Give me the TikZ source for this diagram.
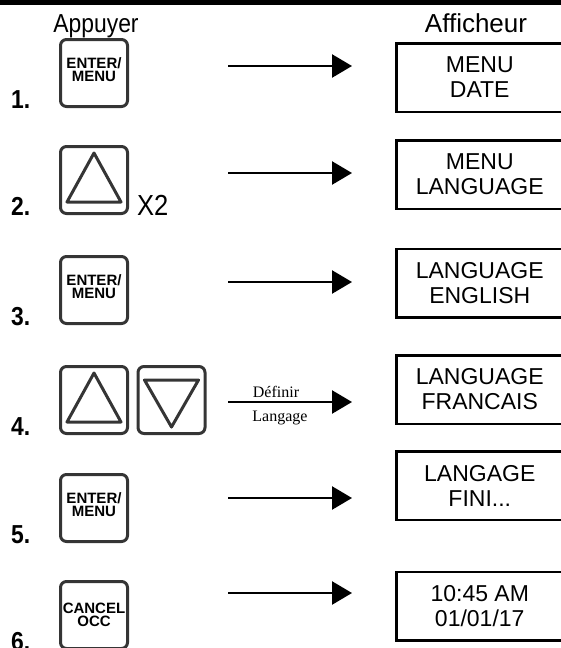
\documentclass[tikz,border=0pt]{standalone}
\usepackage{fontspec}
\setmainfont{Liberation Sans}
\newfontfamily\narrowsf[FakeStretch=0.88]{Liberation Sans}
\newfontfamily\serifrm{Liberation Serif}
\usetikzlibrary{arrows.meta}
\definecolor{keygray}{HTML}{353535}
\begin{document}
\begin{tikzpicture}[x=1pt,y=-1pt,
  key/.style={draw=keygray,line width=3pt,rounded corners=6pt,minimum width=67pt,minimum height=67pt,inner sep=0pt,align=center,font=\fontsize{15}{13.5}\selectfont\bfseries},
  keytext/.style={text depth=7pt},
  disp/.style={draw,line width=2.5pt,minimum width=166.5pt,minimum height=68.5pt,inner sep=0pt,align=center,font=\fontsize{23}{25}\selectfont},
  num/.style={anchor=base west,inner sep=0pt,font=\fontsize{26}{26}\narrowsf\bfseries},
  tri/.style={draw=keygray,line width=3pt,line join=round},
  step arrow/.style={line width=2.5pt,-{Triangle[length=20pt,width=23pt]}}]
\useasboundingbox (0,0) rectangle (561,648);
\fill (0,0) rectangle (561,5);
% headers
\node[anchor=base,inner sep=0pt,font=\fontsize{26}{26}\narrowsf] (appuyer) at (96,32) {Appuyer};
\node[anchor=base,inner sep=0pt,font=\fontsize{26}{26}\selectfont] (afficheur) at (476,32) {Afficheur};
% step 1
\node[key,keytext] (k1) at (94,73) {ENTER/\\MENU};
\node[num] (n1) at (11,108) {1.};
\node[disp] (d1) at (479.75,77.5) {MENU\\DATE};
\coordinate (a1) at (228,66);
\coordinate (b1) at (352,66);
\draw[step arrow] (a1) -- (b1);
% step 2
\node[key] (k2) at (94,180) {};
\draw[tri] ([shift={(0,-27)}]k2.center) -- ([shift={(27,22)}]k2.center) -- ([shift={(-27,22)}]k2.center) -- cycle;
\node[anchor=base west,inner sep=0pt,font=\fontsize{29}{29}\narrowsf] (x2) at (137,215) {X2};
\node[num] (n2) at (11,215) {2.};
\node[disp] (d2) at (479.75,174.5) {MENU\\LANGUAGE};
\coordinate (a2) at (228,173);
\coordinate (b2) at (352,173);
\draw[step arrow] (a2) -- (b2);
% step 3
\node[key,keytext] (k3) at (94,290) {ENTER/\\MENU};
\node[num] (n3) at (11,325) {3.};
\node[disp] (d3) at (479.75,283) {LANGUAGE\\ENGLISH};
\coordinate (a3) at (228,282);
\coordinate (b3) at (352,282);
\draw[step arrow] (a3) -- (b3);
% step 4
\node[key] (k4) at (94,400) {};
\draw[tri] ([shift={(0,-27)}]k4.center) -- ([shift={(27,22)}]k4.center) -- ([shift={(-27,22)}]k4.center) -- cycle;
\node[key] (k4b) at (171.5,400) {};
\draw[tri] ([shift={(0,27)}]k4b.center) -- ([shift={(27,-20)}]k4b.center) -- ([shift={(-27,-20)}]k4b.center) -- cycle;
\node[num] (n4) at (11,435) {4.};
\node[disp] (d4) at (479.75,389.5) {LANGUAGE\\FRANCAIS};
\coordinate (a4) at (228,402);
\coordinate (b4) at (352,402);
\draw[step arrow] (a4) -- (b4);
\node[anchor=base,inner sep=0pt,font=\fontsize{16}{16}\serifrm] (definir) at (276,397) {Définir};
\node[anchor=base,inner sep=0pt,font=\fontsize{16}{16}\serifrm] (langage) at (280,421) {Langage};
% step 5
\node[key,keytext] (k5) at (94,508) {ENTER/\\MENU};
\node[num] (n5) at (11,543) {5.};
\node[disp] (d5) at (479.75,485.5) {LANGAGE\\FINI...};
\coordinate (a5) at (228,498);
\coordinate (b5) at (352,498);
\draw[step arrow] (a5) -- (b5);
% step 6
\node[key] (k6) at (94,615) {CANCEL\\OCC};
\node[num] (n6) at (11,650) {6.};
\node[disp] (d6) at (479.75,606) {10:45 AM\\01/01/17};
\coordinate (a6) at (228,593);
\coordinate (b6) at (352,593);
\draw[step arrow] (a6) -- (b6);
\end{tikzpicture}
\end{document}
